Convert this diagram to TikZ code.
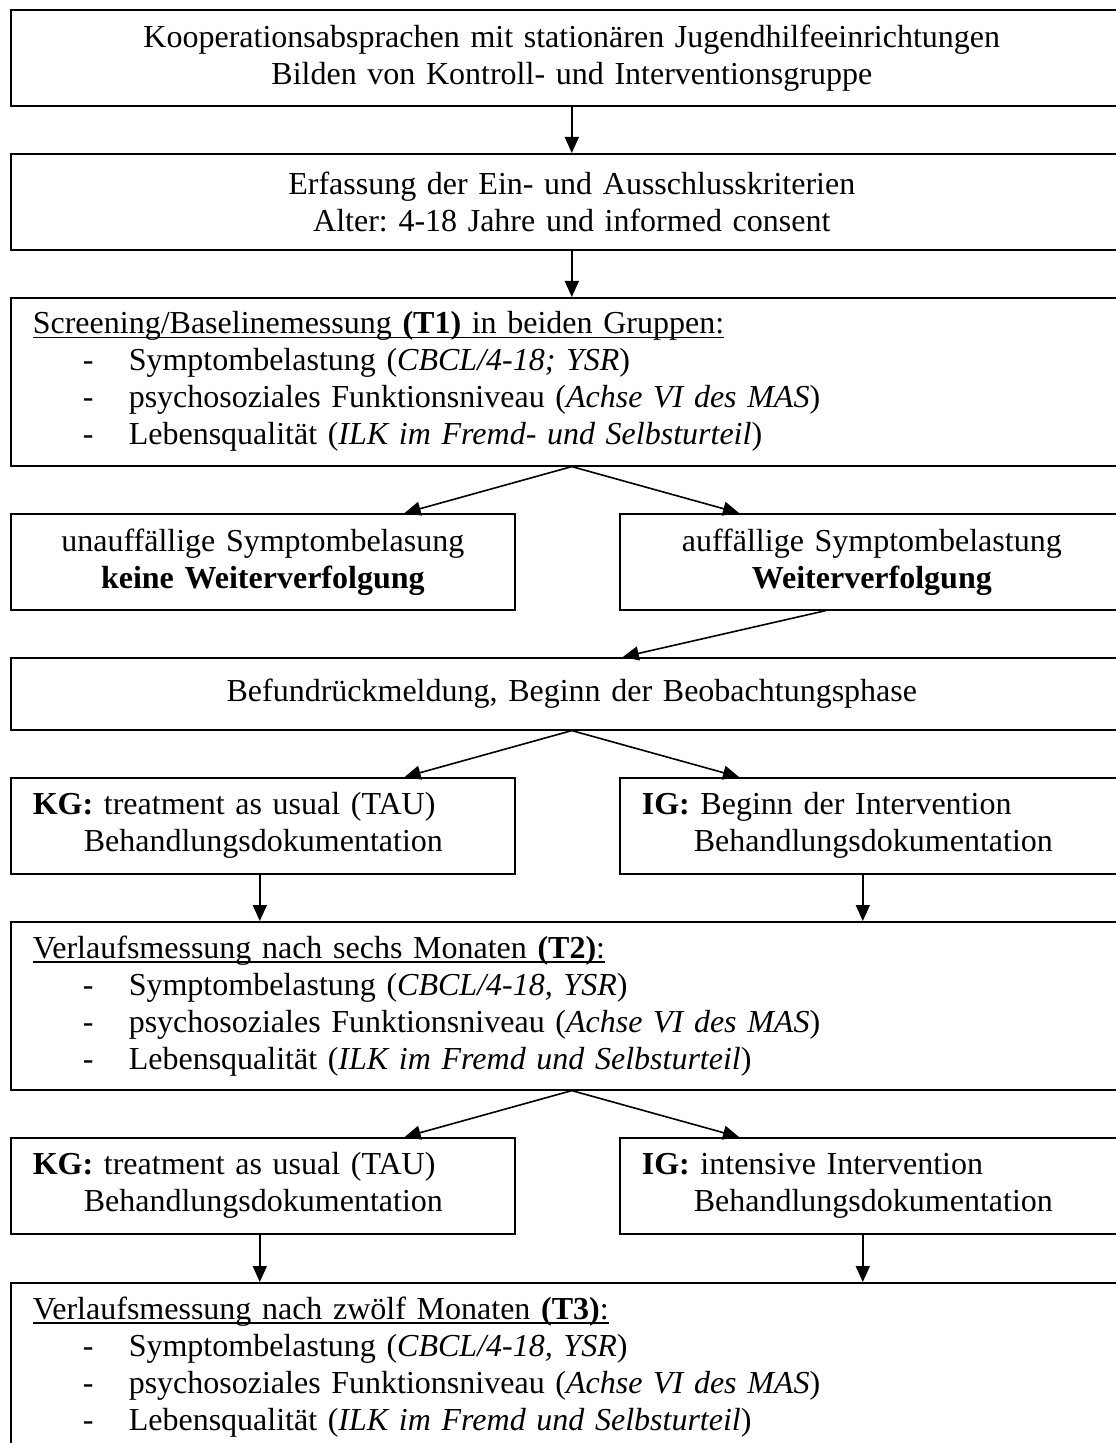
\documentclass[tikz,border=0pt]{standalone}
\usepackage{fontspec}
\setmainfont{Liberation Serif}
\usetikzlibrary{arrows.meta}

\newcommand{\listdash}{\hspace*{25pt}\makebox[23pt][l]{-}}
\newsavebox{\ulbox}
\newcommand{\underlined}[1]{\sbox{\ulbox}{#1}\rlap{\rule[-2.2pt]{\wd\ulbox}{0.75pt}}\usebox{\ulbox}}

\tikzset{
  box/.style={draw, line width=0.8pt, rectangle, anchor=north west, inner xsep=11pt, inner ysep=0pt, font=\fontsize{16}{18.5}\selectfont\frenchspacing},
  widebox/.style={box, text width=539pt},
  halfbox/.style={box, text width=230pt},
  flow/.style={line width=0.8pt, -{Triangle[length=8pt,width=7pt]}}
}

\begin{document}
\begin{tikzpicture}[x=0.5pt,y=0.5pt,yscale=-1,xscale=1]
        \useasboundingbox (0,0) rectangle (1115,1443);

        % Text Node
        \node [widebox, align=center, minimum height=48pt] (koop) at (10,9) {Kooperationsabsprachen mit stationären Jugendhilfeeinrichtungen\\Bilden von Kontroll- und Interventionsgruppe};
        % Text Node
        \node [widebox, align=center, minimum height=48pt] (kriterien) at (10,153) {Erfassung der Ein- und Ausschlusskriterien\\Alter: 4-18 Jahre und informed consent};
        % Text Node
        \node [widebox, align=left, minimum height=84pt] (t1) at (10,297) {\underlined{Screening/Baselinemessung \textbf{(T1)} in beiden Gruppen:}\\\listdash Symptombelastung (\textit{CBCL/4-18; YSR})\\\listdash psychosoziales Funktionsniveau (\textit{Achse VI des MAS})\\\listdash Lebensqualität (\textit{ILK im Fremd- und Selbsturteil})};
        % Text Node
        \node [halfbox, align=center, minimum height=48pt] (unauff) at (10,513) {unauffällige Symptombelasung\\\textbf{keine Weiterverfolgung}};
        % Text Node
        \node [halfbox, align=center, minimum height=48pt] (auff) at (619,513) {auffällige Symptombelastung\\\textbf{Weiterverfolgung}};
        % Text Node
        \node [widebox, align=center, minimum height=36pt] (befund) at (10,657) {Befundrückmeldung, Beginn der Beobachtungsphase};
        % Text Node
        \node [halfbox, align=left, minimum height=48pt] (kg1) at (10,777) {\textbf{KG:} treatment as usual (TAU)\\\hspace*{25.5pt}Behandlungsdokumentation};
        % Text Node
        \node [halfbox, align=left, minimum height=48pt] (ig1) at (619,777) {\textbf{IG:} Beginn der Intervention\\\hspace*{26pt}Behandlungsdokumentation};
        % Text Node
        \node [widebox, align=left, minimum height=84pt] (t2) at (10,921) {\underlined{Verlaufsmessung nach sechs Monaten \textbf{(T2)}:}\\\listdash Symptombelastung (\textit{CBCL/4-18, YSR})\\\listdash psychosoziales Funktionsniveau (\textit{Achse VI des MAS})\\\listdash Lebensqualität (\textit{ILK im Fremd und Selbsturteil})};
        % Text Node
        \node [halfbox, align=left, minimum height=48pt] (kg2) at (10,1137) {\textbf{KG:} treatment as usual (TAU)\\\hspace*{25.5pt}Behandlungsdokumentation};
        % Text Node
        \node [halfbox, align=left, minimum height=48pt] (ig2) at (619,1137) {\textbf{IG:} intensive Intervention\\\hspace*{26pt}Behandlungsdokumentation};
        % Text Node
        \node [widebox, align=left, minimum height=84pt] (t3) at (10,1282) {\underlined{Verlaufsmessung nach zwölf Monaten \textbf{(T3)}:}\\\listdash Symptombelastung (\textit{CBCL/4-18, YSR})\\\listdash psychosoziales Funktionsniveau (\textit{Achse VI des MAS})\\\listdash Lebensqualität (\textit{ILK im Fremd und Selbsturteil})};

        %Straight Lines
        \draw [flow] (koop.south) -- (kriterien.north);
        \draw [flow] (kriterien.south) -- (t1.north);
        \draw [flow] (t1.south) -- ([xshift=-55.5pt]unauff.north east);
        \draw [flow] (t1.south) -- ([xshift=60pt]auff.north west);
        \draw [flow] ([xshift=-23pt]auff.south) -- ([xshift=25.5pt]befund.north);
        \draw [flow] (befund.south) -- ([xshift=-55.5pt]kg1.north east);
        \draw [flow] (befund.south) -- ([xshift=60pt]ig1.north west);
        \draw [flow] ([xshift=-1.5pt]kg1.south) -- ([xshift=-1.5pt]kg1.south |- t2.north);
        \draw [flow] ([xshift=-4.5pt]ig1.south) -- ([xshift=-4.5pt]ig1.south |- t2.north);
        \draw [flow] (t2.south) -- ([xshift=-55.5pt]kg2.north east);
        \draw [flow] (t2.south) -- ([xshift=60pt]ig2.north west);
        \draw [flow] ([xshift=-1.5pt]kg2.south) -- ([xshift=-1.5pt]kg2.south |- t3.north);
        \draw [flow] ([xshift=-4.5pt]ig2.south) -- ([xshift=-4.5pt]ig2.south |- t3.north);
    \end{tikzpicture}
\end{document}
